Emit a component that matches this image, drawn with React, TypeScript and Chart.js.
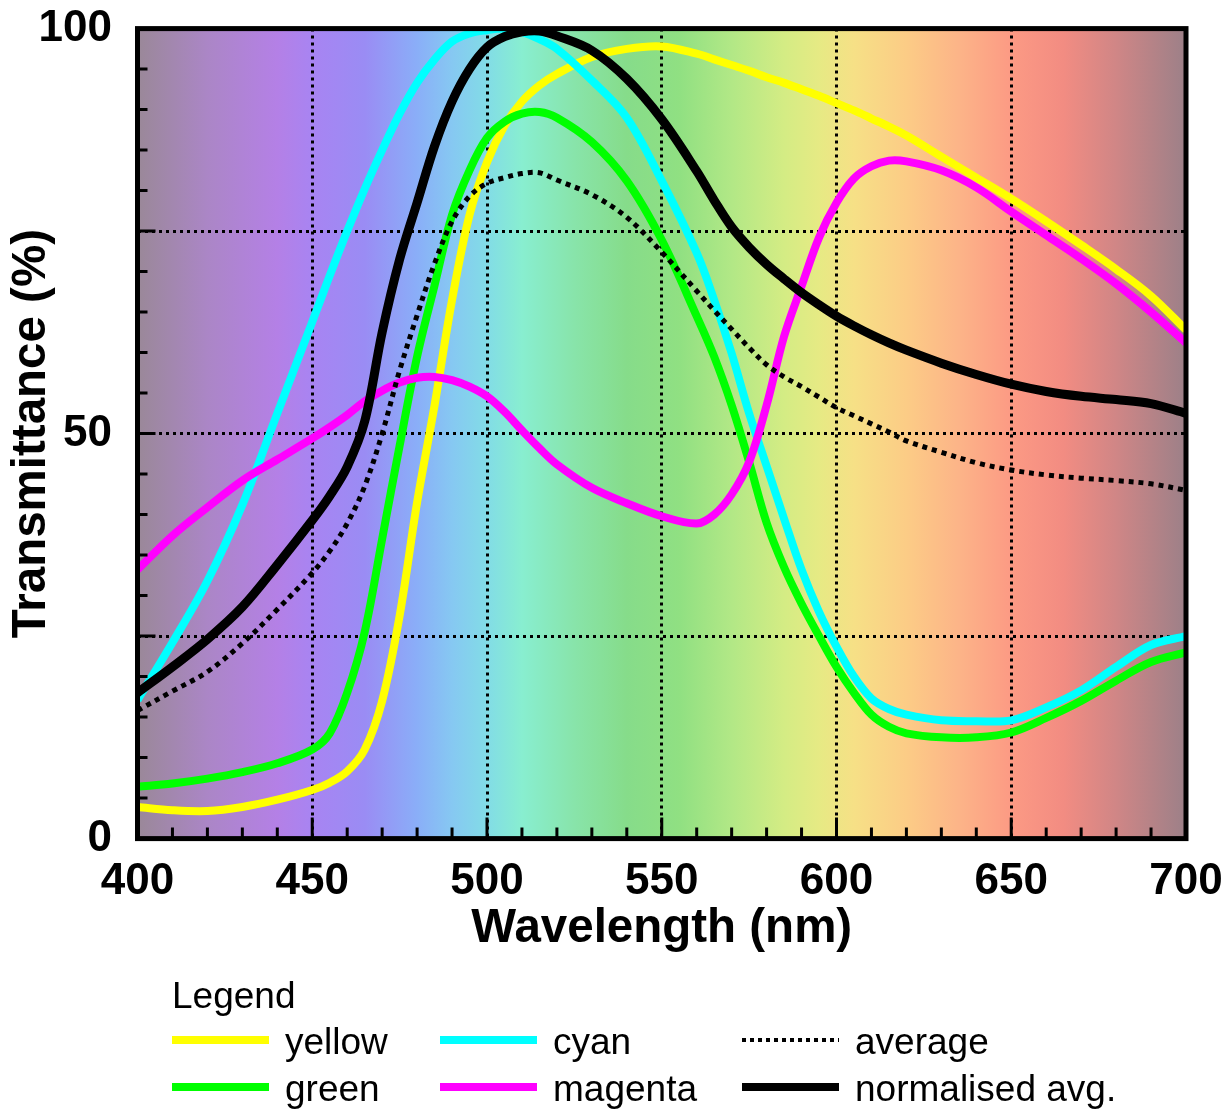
import React, { useEffect, useRef } from 'react';
import { Chart, registerables } from 'chart.js';

Chart.register(...registerables);

// ---------- data ----------
const WAVELENGTHS = [400, 410, 420, 430, 440, 450, 455, 460, 465, 470, 475, 480, 485, 490, 495, 500, 505, 510, 515, 520, 530, 540, 550, 560, 565, 570, 575, 580, 585, 590, 595, 600, 605, 610, 615, 620, 630, 640, 650, 660, 670, 680, 690, 700];

const YELLOW = [3.9, 3.5, 3.4, 3.9, 4.8, 6, 6.9, 8.3, 11, 17, 27.5, 41.5, 53.5, 66.5, 77, 83.5, 88, 91, 93, 94.4, 96.5, 97.5, 97.8, 96.9, 96.2, 95.5, 94.8, 94, 93.3, 92.5, 91.7, 90.8, 89.9, 88.9, 87.9, 86.8, 84.2, 81.6, 79, 76.2, 73.3, 70.3, 67, 62.8];

const GREEN = [6.4, 6.8, 7.4, 8.2, 9.3, 11, 13, 18, 25.5, 37, 48.5, 59.5, 68.3, 77, 82.5, 86.5, 88.5, 89.5, 89.7, 89, 86, 81.2, 73.9, 64.5, 59.5, 53.5, 46.5, 39, 33.5, 29, 25, 21.2, 18, 15.3, 13.8, 13, 12.5, 12.5, 13.1, 14.9, 17, 19.5, 21.8, 23];

const CYAN = [17.1, 24.2, 31.8, 41.2, 52.5, 63.8, 69.5, 75, 80.2, 85, 89.5, 93.3, 96.2, 98.4, 99.4, 99.8, 100, 99.6, 98.7, 97.5, 93.6, 89, 81.2, 72.3, 66.5, 59.9, 52.5, 46, 39.5, 33.2, 28, 23.7, 20, 17.3, 16, 15.3, 14.6, 14.5, 14.6, 16.2, 18.3, 21.2, 23.9, 25];

const MAGENTA = [33.2, 37.4, 40.9, 44.2, 46.8, 49.4, 50.8, 52.3, 54, 55.3, 56.3, 56.9, 57, 56.6, 55.8, 54.6, 52.7, 50.4, 48.2, 46.2, 43.3, 41.4, 39.8, 38.9, 40, 42.5, 46.5, 53.5, 62, 68.2, 74.2, 78.5, 81.5, 83, 83.7, 83.6, 82.5, 80.4, 77.4, 74.5, 71.6, 68.5, 65, 61.2];

const AVERAGE = [15.8, 18.2, 20.6, 24.1, 28.3, 32.8, 35.5, 38.9, 43.5, 50, 57.8, 64.6, 71, 76.2, 79.3, 80.9, 81.6, 82.1, 82.2, 81.3, 79.5, 76.7, 72.4, 67.6, 65.2, 62.9, 60.6, 58.5, 57, 55.8, 54.5, 53.2, 52.2, 51.2, 50.2, 49.1, 47.7, 46.4, 45.5, 44.9, 44.5, 44.2, 43.8, 43];

const NORMALISED = [18, 21.2, 24.6, 28.6, 33.8, 39.3, 42.3, 45.9, 51.5, 62.5, 71.5, 78.5, 85.5, 91, 95, 97.7, 99, 99.6, 99.7, 99.1, 97.3, 93.8, 88.8, 82.4, 78.8, 75.5, 73, 70.9, 69.1, 67.4, 65.9, 64.5, 63.3, 62.2, 61.2, 60.3, 58.7, 57.3, 56.1, 55.2, 54.6, 54.2, 53.7, 52.5];

const X_TICK_LABELS = [400, 450, 500, 550, 600, 650, 700];
const Y_TICK_LABELS = [0, 50, 100];
const X_GRID = [450, 500, 550, 600, 650];
const Y_GRID = [25, 50, 75];

// ---------- styles ----------
const FONT = '"Liberation Sans", Arial, Helvetica, sans-serif';

const SPECTRUM_STOPS: [number, string][] = [
  [400, '#9a8898'],
  [420, '#ab86c6'],
  [440, '#b480e6'],
  [450, '#a884f2'],
  [465, '#9a8cf4'],
  [480, '#8aaef8'],
  [490, '#86c8f2'],
  [500, '#82dce6'],
  [510, '#88eed0'],
  [525, '#88e4aa'],
  [540, '#86dc8a'],
  [555, '#90e082'],
  [570, '#b2e886'],
  [585, '#d4ec84'],
  [595, '#e6ea84'],
  [605, '#f6e086'],
  [620, '#fccc86'],
  [635, '#fcb488'],
  [650, '#fc9a84'],
  [665, '#f28c82'],
  [680, '#d08686'],
  [700, '#9c8088'],
];

const W = 1231;
const H = 1111;
const AREA = { left: 137.5, right: 1186, top: 28.6, bottom: 838.6 };
const PAD_BOTTOM = 151;

const spectrumPlugin = {
  id: 'spectrumBackground',
  beforeDraw(chart: any) {
    const { ctx, chartArea: a, scales } = chart;
    const xs = scales.x;
    const g = ctx.createLinearGradient(a.left, 0, a.right, 0);
    for (const [nm, c] of SPECTRUM_STOPS) {
      const t = (xs.getPixelForValue(nm) - a.left) / (a.right - a.left);
      g.addColorStop(Math.min(1, Math.max(0, t)), c);
    }
    ctx.save();
    ctx.fillStyle = g;
    ctx.fillRect(a.left, a.top, a.right - a.left, a.bottom - a.top);
    ctx.restore();
  },
};

const framePlugin = {
  id: 'frameAndTicks',
  afterDatasetsDraw(chart: any) {
    const { ctx, chartArea: a, scales } = chart;
    const xs = scales.x;
    const ys = scales.y;
    ctx.save();
    ctx.strokeStyle = '#000';
    ctx.lineWidth = 3;
    ctx.beginPath();
    xs.ticks.forEach((t: any) => {
      if (t.value <= xs.min || t.value >= xs.max) return;
      const px = xs.getPixelForValue(t.value);
      const len = t.value % 50 === 0 ? 21 : 11;
      ctx.moveTo(px, a.bottom);
      ctx.lineTo(px, a.bottom - len);
    });
    ys.ticks.forEach((t: any) => {
      if (t.value <= ys.min || t.value >= ys.max) return;
      const py = ys.getPixelForValue(t.value);
      const len = t.value % 25 === 0 ? 18 : 10;
      ctx.moveTo(a.left, py);
      ctx.lineTo(a.left + len, py);
    });
    ctx.stroke();
    ctx.lineWidth = 5;
    ctx.strokeRect(a.left, a.top, a.right - a.left, a.bottom - a.top);
    ctx.restore();
  },
};

const SERIES = [
  { label: 'normalised avg.', values: NORMALISED, color: '#000000', width: 9, dash: [] as number[] },
  { label: 'average', values: AVERAGE, color: '#000000', width: 5, dash: [5, 5] },
  { label: 'magenta', values: MAGENTA, color: '#ff00ff', width: 8, dash: [] as number[] },
  { label: 'green', values: GREEN, color: '#00ff00', width: 8, dash: [] as number[] },
  { label: 'cyan', values: CYAN, color: '#00ffff', width: 8, dash: [] as number[] },
  { label: 'yellow', values: YELLOW, color: '#ffff00', width: 8, dash: [] as number[] },
];

const LEGEND_ROWS = [
  [
    { label: 'yellow', color: '#ffff00', dotted: false },
    { label: 'cyan', color: '#00ffff', dotted: false },
    { label: 'average', color: '#000000', dotted: true },
  ],
  [
    { label: 'green', color: '#00ff00', dotted: false },
    { label: 'magenta', color: '#ff00ff', dotted: false },
    { label: 'normalised avg.', color: '#000000', dotted: false },
  ],
];
const LEGEND_COL_X = [172, 440, 742];
const LEGEND_ROW_Y = [1040, 1087];

export default function App() {
  const canvasRef = useRef<HTMLCanvasElement | null>(null);

  useEffect(() => {
    const canvas = canvasRef.current;
    if (!canvas) return;
    const chart = new Chart(canvas, {
      type: 'line',
      data: {
        datasets: SERIES.map((s) => ({
          label: s.label,
          data: WAVELENGTHS.map((x, i) => ({ x, y: s.values[i] })),
          borderColor: s.color,
          backgroundColor: s.color,
          borderWidth: s.width,
          borderDash: s.dash,
          pointRadius: 0,
          tension: 0.35,
          fill: false,
        })),
      },
      options: {
        animation: false,
        responsive: false,
        maintainAspectRatio: false,
        layout: { padding: { left: 0, right: W - AREA.right, top: AREA.top, bottom: PAD_BOTTOM } },
        plugins: {
          legend: { display: false },
          tooltip: { enabled: false },
        },
        scales: {
          x: {
            type: 'linear',
            min: 400,
            max: 700,
            afterFit: (scale: any) => {
              scale.height = H - PAD_BOTTOM - AREA.bottom;
              scale.paddingLeft = 0;
              scale.paddingRight = 0;
              scale.paddingTop = 0;
              scale.paddingBottom = 0;
            },
            ticks: {
              stepSize: 10,
              autoSkip: false,
              maxRotation: 0,
              padding: 16.5,
              color: '#000',
              font: { family: FONT, size: 44, weight: 'bold' },
              callback: (v: any) => (X_TICK_LABELS.includes(Number(v)) ? String(v) : ''),
            },
            grid: {
              drawTicks: false,
              lineWidth: 3,
              color: (c: any) => (c.tick && X_GRID.includes(c.tick.value) ? '#000' : 'rgba(0,0,0,0)'),
            },
            border: { display: false, dash: [3, 4] },
            title: {
              display: true,
              text: 'Wavelength (nm)',
              color: '#000',
              font: { family: FONT, size: 47.5, weight: 'bold' },
              padding: { top: 0, bottom: 3 },
            },
          },
          y: {
            type: 'linear',
            min: 0,
            max: 100,
            afterFit: (scale: any) => {
              scale.width = AREA.left;
              scale.paddingLeft = 0;
              scale.paddingRight = 0;
              scale.paddingTop = 0;
              scale.paddingBottom = 0;
            },
            ticks: {
              stepSize: 5,
              autoSkip: false,
              padding: 25.5,
              color: '#000',
              font: { family: FONT, size: 44, weight: 'bold' },
              callback: (v: any) => (Y_TICK_LABELS.includes(Number(v)) ? String(v) : ''),
            },
            grid: {
              drawTicks: false,
              lineWidth: 3,
              color: (c: any) => (c.tick && Y_GRID.includes(c.tick.value) ? '#000' : 'rgba(0,0,0,0)'),
            },
            border: { display: false, dash: [3, 4] },
            title: {
              display: true,
              text: 'Transmittance (%)',
              color: '#000',
              font: { family: FONT, size: 47.5, weight: 'bold' },
              padding: { top: 3.5, bottom: 0 },
            },
          },
        },
      } as any,
      plugins: [spectrumPlugin, framePlugin],
    });
    return () => chart.destroy();
  }, []);

  const textStyle: React.CSSProperties = {
    position: 'absolute',
    fontFamily: FONT,
    fontSize: 37,
    lineHeight: '37px',
    color: '#000',
    whiteSpace: 'nowrap',
  };

  return (
    <div style={{ position: 'absolute', left: 0, top: 0, width: W, height: H, background: '#fff', overflow: 'hidden' }}>
      <canvas ref={canvasRef} width={W} height={H} style={{ position: 'absolute', left: 0, top: 0, width: W, height: H }} />
      <div style={{ ...textStyle, left: 172, top: 977 }}>Legend</div>
      {LEGEND_ROWS.map((row, r) =>
        row.map((item, c) => (
          <React.Fragment key={item.label}>
            <div
              style={{
                position: 'absolute',
                left: LEGEND_COL_X[c],
                top: LEGEND_ROW_Y[r] - (item.dotted ? 2 : 4),
                width: 97,
                height: item.dotted ? 4 : 8,
                background: item.dotted
                  ? 'repeating-linear-gradient(to right, #000 0px, #000 4px, transparent 4px, transparent 8px)'
                  : item.color,
              }}
            />
            <div style={{ ...textStyle, left: LEGEND_COL_X[c] + 113, top: LEGEND_ROW_Y[r] + 14 - 31 }}>{item.label}</div>
          </React.Fragment>
        ))
      )}
    </div>
  );
}
